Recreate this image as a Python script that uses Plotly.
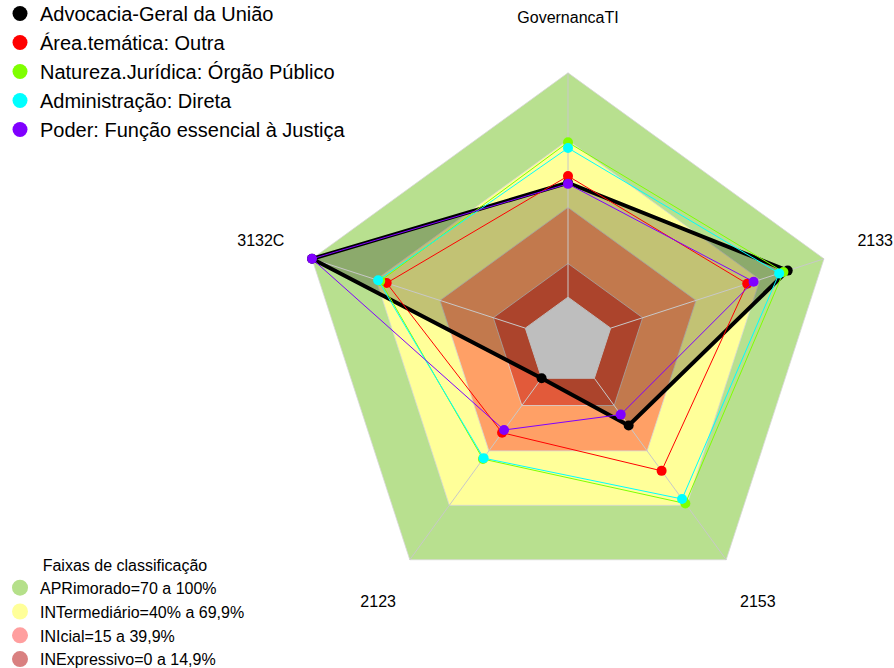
import plotly.graph_objects as go

# ---- data ----
categories = ["GovernancaTI", "2133", "2153", "2123", "3132C"]
series_names = [
    "Advocacia-Geral da União",
    "Área.temática: Outra",
    "Natureza.Jurídica: Órgão Público",
    "Administração: Direta",
    "Poder: Função essencial à Justiça",
]
agu_values = [51, 83, 26, 0, 100]
area_values = [54, 64, 51, 30, 65]
natureza_values = [69, 81, 69, 44.5, 68]
admin_values = [66.5, 79, 66.5, 44, 69]
poder_values = [50.5, 67, 20, 28.5, 100]

band_names = [
    "APRimorado=70 a 100%",
    "INTermediário=40% a 69,9%",
    "INIcial=15 a 39,9%",
    "INExpressivo=0 a 14,9%",
]
band_upper = [100, 70, 40, 15]
center_value = 0
axis_max = 100
label_value = 124
radial_min = -20

# ---- styles ----
series_colors = ["#000000", "#FF0000", "#7FFF00", "#00FFFF", "#8000FF"]
series_widths = [4, 1, 1, 1, 1]
band_fill = ["#B8E08F", "#FFFF99", "#FFA066", "#E25A3A"]
band_legend_colors = ["#B5E08A", "#FFFF99", "#FF9F9F", "#D98080"]
FONT = "Liberation Sans, Arial, sans-serif"

def closed(seq):
    return list(seq) + [seq[0]]

fig = go.Figure()

# background bands
for name, up, col in zip(band_names, band_upper, band_fill):
    fig.add_trace(go.Scatterpolar(
        r=closed([up] * len(categories)), theta=closed(categories),
        mode="lines", fill="toself", fillcolor=col,
        line=dict(color="rgba(215,215,215,0.8)", width=1),
        showlegend=False, hoverinfo="skip"))

all_series = [agu_values, area_values, natureza_values, admin_values, poder_values]

# shaded area of the first series
fig.add_trace(go.Scatterpolar(
    r=closed(agu_values), theta=closed(categories),
    mode="lines", fill="toself", fillcolor="rgba(0,0,0,0.24)",
    line=dict(width=0, color="rgba(0,0,0,0)"),
    showlegend=False, hoverinfo="skip"))

# spokes
sp_r, sp_t = [], []
for c in categories:
    sp_r += [center_value, axis_max, None]
    sp_t += [c, c, None]
fig.add_trace(go.Scatterpolar(
    r=sp_r, theta=sp_t, mode="lines",
    line=dict(color="#C8C8C8", width=1),
    showlegend=False, hoverinfo="skip"))

# gray center
fig.add_trace(go.Scatterpolar(
    r=closed([center_value] * len(categories)), theta=closed(categories),
    mode="lines", fill="toself", fillcolor="#BEBEBE",
    line=dict(color="#BEBEBE", width=1),
    showlegend=False, hoverinfo="skip"))

# series (lines + points)
for name, vals, col, w in zip(series_names, all_series, series_colors, series_widths):
    fig.add_trace(go.Scatterpolar(
        r=closed(vals), theta=closed(categories), mode="lines",
        line=dict(color=col, width=w),
        showlegend=False, hoverinfo="skip"))
    fig.add_trace(go.Scatterpolar(
        r=vals, theta=categories, mode="markers", name=name,
        marker=dict(color=col, size=10),
        showlegend=False))

# series legend entries
for name, col in zip(series_names, series_colors):
    fig.add_trace(go.Scatterpolar(
        r=[None], theta=[None], mode="markers", name=name,
        marker=dict(color=col, size=15),
        legend="legend"))

# band legend entries
for name, col in zip(band_names, band_legend_colors):
    fig.add_trace(go.Scatterpolar(
        r=[None], theta=[None], mode="markers", name=name,
        marker=dict(color=col, size=16),
        legend="legend2"))

# axis labels
fig.add_trace(go.Scatterpolar(
    r=[label_value] * len(categories), theta=categories, mode="text",
    text=categories, textposition="middle center",
    textfont=dict(family=FONT, size=16, color="#000000"),
    cliponaxis=False, showlegend=False, hoverinfo="skip"))

W, H = 894, 668
cx, cy, rad = 568, 342, 323
fig.update_layout(
    width=W, height=H,
    margin=dict(l=0, r=0, t=0, b=0, autoexpand=False),
    paper_bgcolor="white",
    plot_bgcolor="white",
    font=dict(family=FONT, color="#000000"),
    polar=dict(
        domain=dict(x=[(cx - rad) / W, (cx + rad) / W],
                    y=[1 - (cy + rad) / H, 1 - (cy - rad) / H]),
        bgcolor="rgba(0,0,0,0)",
        radialaxis=dict(visible=False, range=[radial_min, label_value]),
        angularaxis=dict(type="category", categoryarray=categories,
                         direction="clockwise", rotation=90,
                         showticklabels=False, showgrid=False,
                         showline=False, ticks=""),
    ),
    legend=dict(x=0.0, y=1.009, xanchor="left", yanchor="top",
                font=dict(family=FONT, size=20, color="#000000"),
                bgcolor="rgba(0,0,0,0)", tracegroupgap=0,
                itemsizing="trace"),
    legend2=dict(x=0.0, y=-0.012, xanchor="left", yanchor="bottom",
                 font=dict(family=FONT, size=16, color="#000000"),
                 title=dict(text="Faixas de classificação", side="top center",
                            font=dict(family=FONT, size=16, color="#000000")),
                 bgcolor="rgba(0,0,0,0)", itemsizing="trace"),
)

fig.write_html("out.html",
               config={"displayModeBar": False},
               post_script="document.body.style.margin='0';document.body.style.overflow='hidden';")
